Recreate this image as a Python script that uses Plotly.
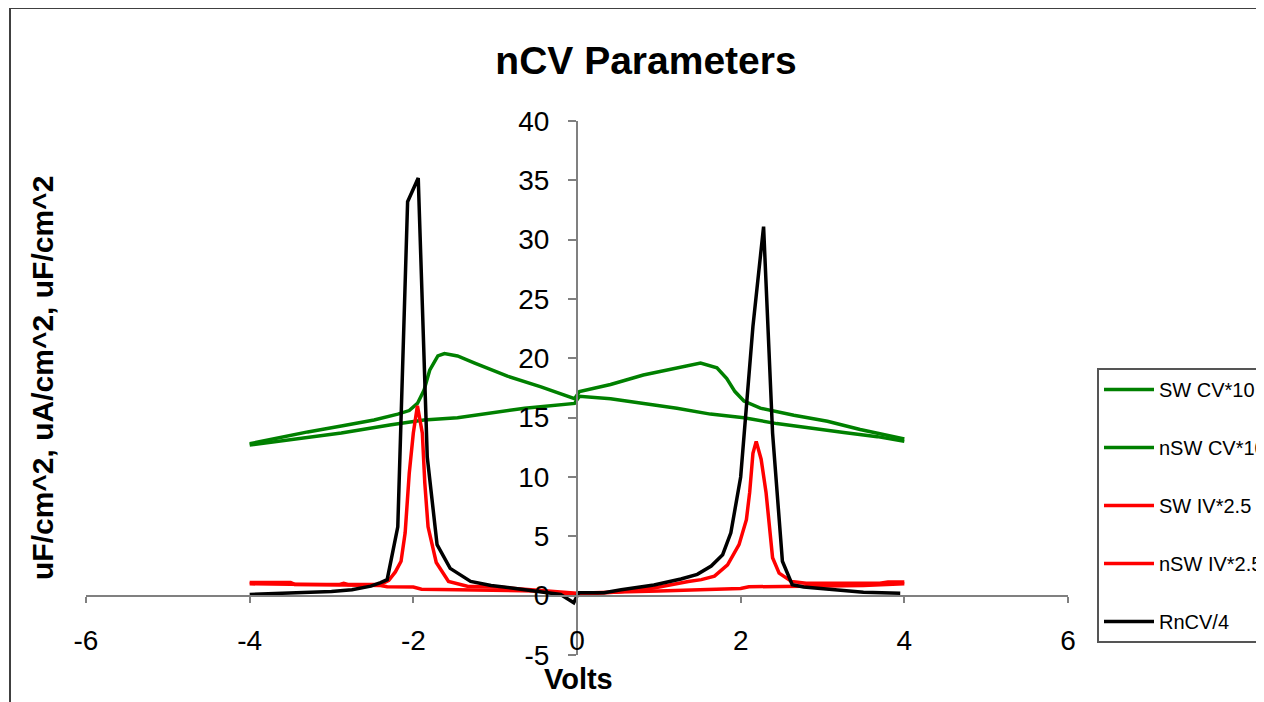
import plotly.graph_objects as go

# Values (Volts vs scaled parameters)
sw_cv_v = [-4.0, -3.86, -3.29, -2.88, -2.48, -2.19, -2.05, -1.95, -1.87, -1.80, -1.70, -1.62,
           -1.46, -1.25, -0.85, -0.44, -0.03, 0.03, 0.41, 0.81, 1.22, 1.51, 1.71, 1.83, 1.93,
           2.04, 2.24, 2.65, 3.06, 3.46, 4.0]
sw_cv = [12.8, 13.0, 13.8, 14.3, 14.8, 15.3, 15.6, 16.2, 17.3, 19.0, 20.2, 20.4,
         20.2, 19.6, 18.5, 17.6, 16.6, 17.2, 17.8, 18.6, 19.2, 19.6, 19.2, 18.3, 17.2,
         16.4, 15.8, 15.2, 14.7, 14.0, 13.2]

nsw_cv_v = [-4.0, -3.29, -2.88, -2.27, -1.87, -1.46, -1.05, -0.64, -0.03, 0.03, 0.41, 0.81,
            1.22, 1.63, 2.04, 2.44, 2.85, 3.26, 3.67, 4.0]
nsw_cv = [12.7, 13.3, 13.7, 14.4, 14.8, 15.0, 15.4, 15.8, 16.2, 16.8, 16.6, 16.2,
          15.8, 15.3, 15.0, 14.5, 14.1, 13.75, 13.4, 13.0]

sw_iv_v = [-4.0, -3.5, -3.45, -2.9, -2.85, -2.8, -2.4, -2.3, -2.22, -2.15, -2.1, -2.05, -2.0,
           -1.95, -1.89, -1.86, -1.82, -1.72, -1.57, -1.34, -0.93, -0.5, 0.0, 0.5, 0.94, 1.36,
           1.52, 1.68, 1.84, 1.98, 2.07, 2.11, 2.15, 2.19, 2.25, 2.31, 2.35, 2.39, 2.47, 2.62,
           2.8, 3.7, 3.8, 4.0]
sw_iv = [1.12, 1.12, 0.95, 0.95, 1.05, 0.95, 0.95, 1.3, 2.0, 2.9, 5.3, 10.3, 13.7,
         16.0, 13.7, 9.5, 5.8, 2.8, 1.2, 0.8, 0.7, 0.45, 0.2, 0.3, 0.65, 1.2,
         1.35, 1.65, 2.6, 4.3, 6.4, 8.7, 12.0, 13.0, 11.5, 8.7, 5.8, 3.2, 1.9, 1.2,
         1.05, 1.05, 1.15, 1.15]

nsw_iv_v = [-4.0, -3.0, -2.4, -2.32, -2.2, -2.0, -1.9, -1.0, -0.5, 0.0, 0.5, 1.0, 1.5, 2.0,
            2.1, 2.6, 3.0, 3.5, 4.0]
nsw_iv = [1.0, 0.95, 0.85, 0.75, 0.75, 0.72, 0.55, 0.5, 0.4, 0.1, 0.3, 0.4, 0.5, 0.6,
          0.75, 0.8, 0.8, 0.85, 1.0]

rncv_v = [-4.0, -3.5, -3.0, -2.75, -2.52, -2.4, -2.32, -2.19, -2.07, -1.94, -1.83, -1.71,
          -1.55, -1.3, -1.05, -0.8, -0.5, -0.2, -0.04, 0.02, 0.33, 0.54, 0.94, 1.27, 1.47,
          1.64, 1.78, 1.88, 2.0, 2.15, 2.28, 2.39, 2.51, 2.63, 2.77, 3.1, 3.5, 3.95]
rncv = [0.1, 0.2, 0.35, 0.5, 0.8, 1.1, 1.35, 5.8, 33.2, 35.2, 11.7, 4.3,
        2.3, 1.2, 0.85, 0.65, 0.35, 0.1, -0.6, 0.25, 0.25, 0.5, 0.9, 1.4, 1.8,
        2.5, 3.45, 5.3, 10.0, 22.7, 31.1, 13.7, 2.9, 0.93, 0.73, 0.56, 0.28, 0.2]

x_ticks = [-6, -4, -2, 0, 2, 4, 6]
x_labels = ["-6", "-4", "-2", "0", "2", "4", "6"]
y_ticks = [-5, 0, 5, 10, 15, 20, 25, 30, 35, 40]
y_labels = ["-5", "0", "5", "10", "15", "20", "25", "30", "35", "40"]

series = [
    ("SW CV*10", sw_cv_v, sw_cv, "#008000"),
    ("nSW CV*10", nsw_cv_v, nsw_cv, "#008000"),
    ("SW IV*2.5", sw_iv_v, sw_iv, "#ff0000"),
    ("nSW IV*2.5", nsw_iv_v, nsw_iv, "#ff0000"),
    ("RnCV/4", rncv_v, rncv, "#000000"),
]

FONT = "Arial, Liberation Sans, sans-serif"

# page body has an 8px margin, so shift everything up/left by 8
OFF = 8
W, H = 1264, 702
L, R, T, B = 86 - OFF, 1068 - OFF, 121 - OFF, 655 - OFF


def px(x):
    return (x - OFF - L) / (R - L)


def py(y):
    return (B - (y - OFF)) / (B - T)


fig = go.Figure()
for i, (name, xs, ys, col) in enumerate(series):
    fig.add_trace(go.Scatter(x=xs, y=ys, mode="lines", name=name, legendgroup=str(i),
                             line=dict(color=col, width=3.5)))

fig.update_layout(
    width=W, height=H,
    margin=dict(l=L, r=W - R, t=T, b=H - B, autoexpand=False),
    paper_bgcolor="white", plot_bgcolor="white",
    font=dict(family=FONT, color="black"),
    title=dict(text="<b>nCV Parameters</b>", x=(646 - OFF) / W, y=1 - (60 - OFF) / H,
               xanchor="center", yanchor="middle", font=dict(size=39, family=FONT)),
    xaxis=dict(range=[-6, 6], tickvals=x_ticks, ticktext=x_labels, anchor="free", position=5 / 45,
               showgrid=False, zeroline=False, showline=True, linecolor="#808080", linewidth=2,
               ticks="outside", ticklen=6, tickwidth=2, tickcolor="#808080",
               tickfont=dict(size=28), ticklabelstandoff=14),
    yaxis=dict(range=[-5, 40], tickvals=y_ticks, ticktext=y_labels, anchor="free", position=0.5,
               showgrid=False, zeroline=False, showline=True, linecolor="#808080", linewidth=2,
               ticks="outside", ticklen=8, tickwidth=2, tickcolor="#808080",
               tickfont=dict(size=28), ticklabelstandoff=13),
    legend=dict(x=px(1097), y=py(368), xanchor="left", yanchor="top",
                bgcolor="white", bordercolor="#555555", borderwidth=2, itemwidth=50,
                font=dict(size=20), tracegroupgap=29),
    showlegend=True,
)

fig.add_annotation(text="<b>Volts</b>", x=px(578), y=py(679), xref="paper", yref="paper",
                   xanchor="center", yanchor="middle", showarrow=False, font=dict(size=29))
fig.add_annotation(text="<b>uF/cm^2, uA/cm^2, uF/cm^2</b>", x=px(42), y=py(378),
                   xref="paper", yref="paper", xanchor="center", yanchor="middle",
                   showarrow=False, textangle=-90, font=dict(size=30))

# outer chart border (left and top edges visible)
fig.add_shape(type="line", xref="paper", yref="paper", x0=px(10), x1=px(10), y0=py(8), y1=py(720),
              line=dict(color="#404040", width=2))
fig.add_shape(type="line", xref="paper", yref="paper", x0=px(10), x1=px(1280), y0=py(8), y1=py(8),
              line=dict(color="#404040", width=2))

fig.write_html("out.html")
